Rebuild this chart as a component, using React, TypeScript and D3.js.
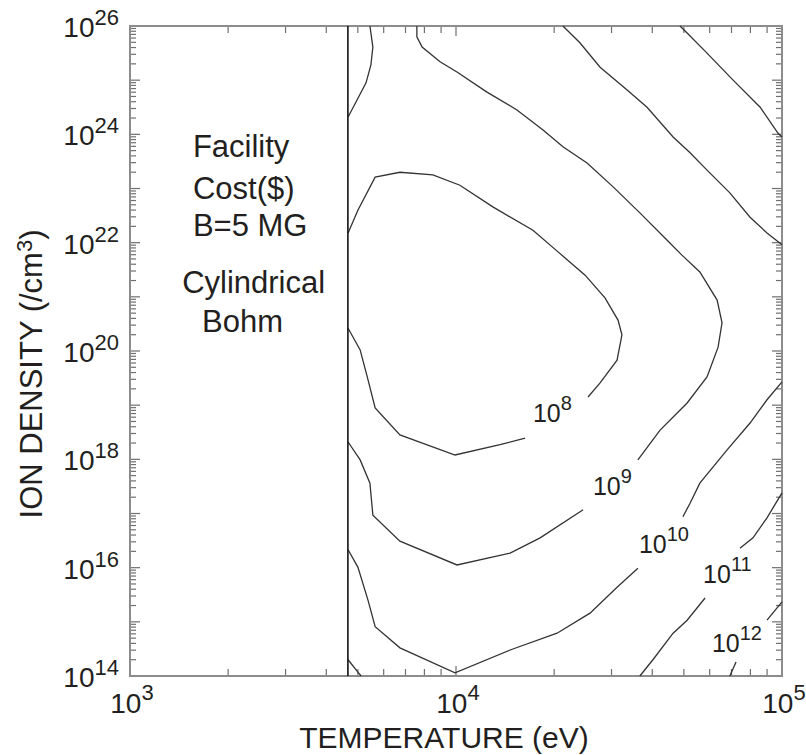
import React, { useRef, useEffect } from 'react';
import * as d3 from 'd3';

// axes
const tempDomain = [1e3, 1e5];
const densDomain = [1e14, 1e26];
const xLabelExps = [3, 4, 5];
const yLabelExps = [14, 16, 18, 20, 22, 24, 26];
const cutoffTemp = 4660; // vertical boundary (eV)

// contour pieces, as [log10 T (eV), log10 n (/cm3)]
const c8a = [[3.669, 22.18], [3.699, 22.6], [3.752, 23.21], [3.828, 23.3], [3.929, 23.25], [4.012, 23.06], [4.113, 22.66], [4.236, 22.23], [4.313, 21.83], [4.396, 21.4], [4.457, 20.98], [4.497, 20.57], [4.509, 20.3], [4.494, 19.83], [4.442, 19.41], [4.405, 19.15]];
const c8b = [[4.212, 18.39], [4.135, 18.27], [3.997, 18.08], [3.828, 18.45], [3.752, 18.95], [3.73, 19.47], [3.706, 20.02], [3.669, 20.42]];
const c9top = [[3.736, 26.0], [3.745, 25.61], [3.739, 25.28], [3.724, 24.95], [3.696, 24.63], [3.669, 24.32]];
const c9a = [[3.88, 26.0], [3.88, 25.8], [3.896, 25.61], [3.951, 25.34], [4.003, 25.15], [4.095, 24.78], [4.187, 24.45], [4.267, 24.08], [4.328, 23.77], [4.402, 23.47], [4.482, 23.03], [4.564, 22.55], [4.647, 22.05], [4.693, 21.77], [4.748, 21.46], [4.801, 20.94], [4.816, 20.52], [4.804, 20.07], [4.77, 19.52], [4.709, 19.04], [4.626, 18.54], [4.558, 17.99]];
const c9b = [[4.39, 17.07], [4.258, 16.55], [4.166, 16.27], [4.003, 16.05], [3.828, 16.49], [3.745, 16.97], [3.736, 17.56], [3.706, 17.99], [3.669, 18.32]];
const c10top = [[4.328, 26.0], [4.38, 25.69], [4.442, 25.24], [4.525, 24.82], [4.586, 24.5], [4.666, 23.95], [4.718, 23.66], [4.77, 23.34], [4.84, 22.92], [4.902, 22.47], [4.954, 22.18], [5.0, 21.96]];
const c10a = [[5.0, 19.43], [4.954, 19.1], [4.902, 18.67], [4.831, 18.17], [4.748, 17.56], [4.718, 17.19], [4.696, 16.94]];
const c10b = [[4.558, 15.99], [4.494, 15.64], [4.411, 15.16], [4.31, 14.79], [4.166, 14.48], [3.997, 14.06], [3.828, 14.52], [3.752, 14.91], [3.73, 15.4], [3.699, 16.01], [3.669, 16.33]];
const c11top = [[4.687, 26.0], [4.709, 25.87], [4.77, 25.5], [4.85, 25.0], [4.933, 24.5], [4.988, 24.02], [5.0, 23.95]];
const c11a = [[5.0, 17.38], [4.954, 16.92], [4.911, 16.55], [4.871, 16.36]];
const c11b = [[4.764, 15.44], [4.709, 15.03], [4.666, 14.79], [4.604, 14.3], [4.564, 14.0]];
const c11low = [[3.669, 14.3], [3.699, 14.07], [3.709, 14.0]];
const c12a = [[5.0, 15.37], [4.954, 15.03]];
const c12b = [[4.859, 14.26], [4.84, 14.0]];

const contourPieces = [c8a, c8b, c9top, c9a, c9b, c10top, c10a, c10b, c11top, c11a, c11b, c11low, c12a, c12b];

// label exponent + where its text starts
const contourLabels = [
  { exp: 8, t: 4.236, n: 18.69 },
  { exp: 9, t: 4.42, n: 17.34 },
  { exp: 10, t: 4.561, n: 16.27 },
  { exp: 11, t: 4.758, n: 15.72 },
  { exp: 12, t: 4.785, n: 14.44 },
];

const noteLines = [
  { text: 'Facility', t: 3.193, n: 23.58 },
  { text: 'Cost($)', t: 3.193, n: 22.81 },
  { text: 'B=5 MG', t: 3.193, n: 22.12 },
  { text: 'Cylindrical', t: 3.16, n: 21.07 },
  { text: 'Bohm', t: 3.221, n: 20.35 },
];

const FONT = '"Liberation Sans", Arial, Helvetica, sans-serif';
const INK = '#231f20';

function App() {
  const svgRef = useRef<SVGSVGElement>(null);

  useEffect(() => {
    const W = 806, H = 755;
    const margin = { top: 26, right: 24, bottom: 79, left: 130 };
    const x = d3.scaleLog().domain(tempDomain).range([margin.left, W - margin.right]);
    const y = d3.scaleLog().domain(densDomain).range([H - margin.bottom, margin.top]);
    const [x0, x1] = x.range();
    const [y0, y1] = y.range(); // y0 bottom, y1 top

    const svg = d3.select(svgRef.current);
    svg.selectAll('*').remove();

    // minor + major ticks
    const xTicks = x.ticks();
    const yTicks: number[] = [];
    d3.range(14, 26).forEach(e => d3.range(1, 10).forEach(m => yTicks.push(m * Math.pow(10, e))));
    yTicks.push(1e26);
    const isMajor = (v: number) => Math.abs(Math.log10(v) - Math.round(Math.log10(v))) < 1e-6;

    const tickG = svg.append('g').attr('stroke', '#6f6f6f').attr('stroke-width', 1.2);
    xTicks.forEach(v => {
      const len = isMajor(v) ? 10 : 7;
      tickG.append('line').attr('x1', x(v)).attr('x2', x(v)).attr('y1', y0).attr('y2', y0 - len);
      tickG.append('line').attr('x1', x(v)).attr('x2', x(v)).attr('y1', y1).attr('y2', y1 + len);
    });
    yTicks.forEach(v => {
      const len = isMajor(v) ? 10 : 6;
      tickG.append('line').attr('x1', x0).attr('x2', x0 + len).attr('y1', y(v)).attr('y2', y(v));
      tickG.append('line').attr('x1', x1).attr('x2', x1 - len).attr('y1', y(v)).attr('y2', y(v));
    });

    // frame
    svg.append('rect')
      .attr('x', x0).attr('y', y1)
      .attr('width', x1 - x0).attr('height', y0 - y1)
      .attr('fill', 'none').attr('stroke', '#8c8c8c').attr('stroke-width', 2);

    // contours
    const line = d3.line<number[]>()
      .x(d => x(Math.pow(10, d[0])))
      .y(d => y(Math.pow(10, d[1])));
    svg.append('g')
      .selectAll('path')
      .data(contourPieces)
      .join('path')
        .attr('d', d => line(d))
        .attr('fill', 'none')
        .attr('stroke', '#333')
        .attr('stroke-width', 1.3);

    // cutoff line
    svg.append('line')
      .attr('x1', x(cutoffTemp)).attr('x2', x(cutoffTemp))
      .attr('y1', y0).attr('y2', y1)
      .attr('stroke', '#111').attr('stroke-width', 1.6);

    // contour labels
    const cl = svg.append('g').style('font-family', FONT).attr('fill', INK);
    contourLabels.forEach(d => {
      const t = cl.append('text')
        .attr('x', x(Math.pow(10, d.t)))
        .attr('y', y(Math.pow(10, d.n)))
        .style('font-size', '25px')
        .text('10');
      t.append('tspan').attr('dy', -12).style('font-size', '20px').text(d.exp);
    });

    // axis labels
    const ax = svg.append('g').style('font-family', FONT).attr('fill', INK);
    xLabelExps.forEach(e => {
      const t = ax.append('text')
        .attr('x', x(Math.pow(10, e)) + 2)
        .attr('y', y0 + 37)
        .attr('text-anchor', 'middle')
        .style('font-size', '28px')
        .text('10');
      t.append('tspan').attr('dy', -13).style('font-size', '22px').text(e);
    });
    yLabelExps.forEach(e => {
      const t = ax.append('text')
        .attr('x', x0 - 11)
        .attr('y', y(Math.pow(10, e)) + 11)
        .attr('text-anchor', 'end')
        .style('font-size', '28px')
        .text('10');
      t.append('tspan').attr('dy', -12).style('font-size', '22px').text(e);
    });

    // titles
    ax.append('text')
      .attr('x', 444).attr('y', 748)
      .attr('text-anchor', 'middle')
      .style('font-size', '30px')
      .text('TEMPERATURE (eV)');
    const yt = ax.append('text')
      .attr('transform', 'translate(42,374) rotate(-90)')
      .attr('text-anchor', 'middle')
      .style('font-size', '31px')
      .text('ION DENSITY (/cm');
    yt.append('tspan').attr('dy', -10).style('font-size', '22px').text('3');
    yt.append('tspan').attr('dy', 10).text(')');

    // annotation
    noteLines.forEach(d => {
      ax.append('text')
        .attr('x', x(Math.pow(10, d.t)))
        .attr('y', y(Math.pow(10, d.n)))
        .style('font-size', '31px')
        .text(d.text);
    });
  }, []);

  return (
    <svg
      ref={svgRef}
      width={806}
      height={755}
      style={{ position: 'absolute', left: 0, top: 0, background: '#fff' }}
    />
  );
}

export default App;
